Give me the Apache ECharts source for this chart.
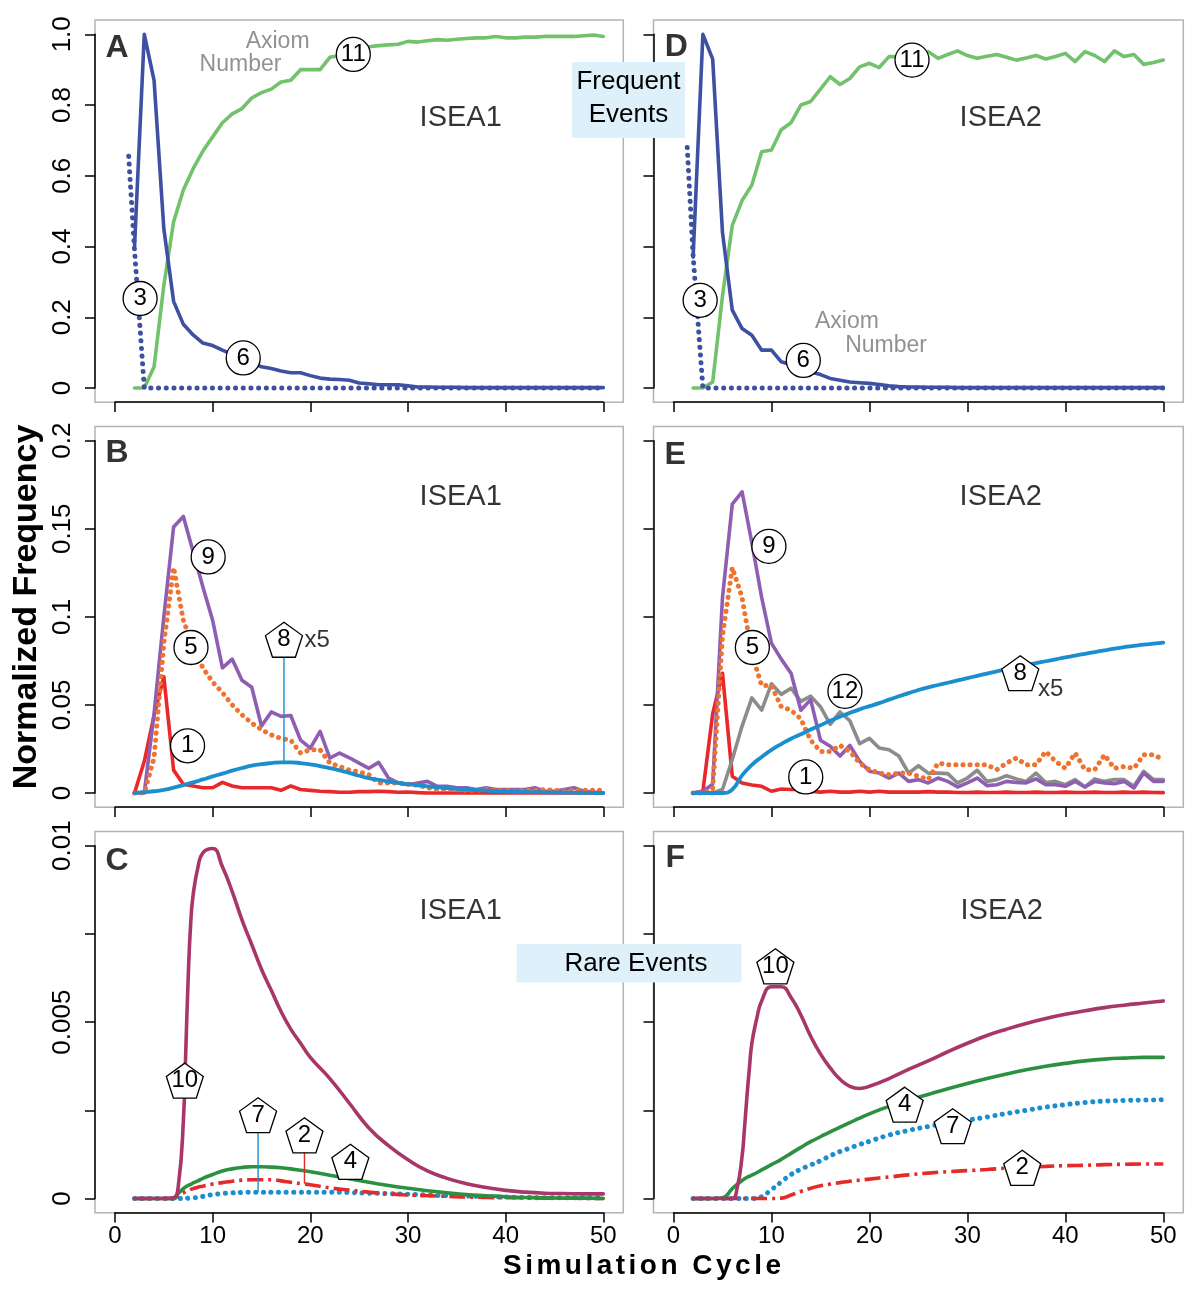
<!DOCTYPE html>
<html>
<head>
<meta charset="utf-8">
<title>ISEA simulation frequencies</title>
<script src="https://cdn.jsdelivr.net/npm/echarts@6.0.0/dist/echarts.min.js"></script>
<style>
html,body{margin:0;padding:0;background:#ffffff;}
#chart{width:1200px;height:1290px;}
</style>
</head>
<body>
<div id="chart"></div>
<script>
// ---------------- data ----------------
const cycles = [2,3,4,5,6,7,8,9,10,11,12,13,14,15,16,17,18,19,20,21,22,23,24,25,26,27,28,29,30,31,32,33,34,35,36,37,38,39,40,41,42,43,44,45,46,47,48,49,50];
const dotCycles = [1.4,2,3,4,5,6,7,8,9,10,11,12,13,14,15,16,17,18,19,20,21,22,23,24,25,26,27,28,29,30,31,32,33,34,35,36,37,38,39,40,41,42,43,44,45,46,47,48,49,50];
const rareX = [2,4,5,6,6.5,7,7.25,7.5,7.75,8,8.5,9,10,11,12,13,14,15,16,17,18,19,20,22,24,26,28,30,32,34,36,38,40,42,44,46,48,50];

const xTickLabels = ['0','10','20','30','40','50'];
const yTicksA = ['0','0.2','0.4','0.6','0.8','1.0'];
const yTicksB = ['0','0.05','0.1','0.15','0.2'];
const yTicksC = ['0','','0.005','','0.01'];

// Panel A (ISEA1, frequent)
const A_g11 = [0,0,0.06,0.29,0.47,0.56,0.62,0.67,0.71,0.75,0.775,0.79,0.82,0.835,0.845,0.865,0.87,0.9,0.9,0.9,0.935,0.94,0.945,0.955,0.965,0.968,0.97,0.972,0.98,0.978,0.982,0.985,0.983,0.986,0.988,0.99,0.99,0.994,0.99,0.99,0.992,0.992,0.994,0.994,0.994,0.994,0.996,0.998,0.994];
const A_b6 = [0.40,1.0,0.87,0.45,0.245,0.18,0.15,0.127,0.12,0.107,0.095,0.083,0.072,0.06,0.055,0.048,0.043,0.043,0.035,0.028,0.025,0.024,0.022,0.014,0.012,0.009,0.009,0.009,0.006,0.003,0.003,0.002,0.002,0.002,0.001,0.001,0.001,0.001,0.001,0.001,0.001,0.001,0.001,0.001,0.001,0.001,0.001,0.001,0.001];
const A_d3 = [0.655,0.39,0,0,0,0,0,0,0,0,0,0,0,0,0,0,0,0,0,0,0,0,0,0,0,0,0,0,0,0,0,0,0,0,0,0,0,0,0,0,0,0,0,0,0,0,0,0,0,0];

// Panel D (ISEA2, frequent)
const D_g11 = [0,0,0.017,0.26,0.46,0.53,0.574,0.668,0.673,0.73,0.75,0.80,0.81,0.845,0.88,0.858,0.875,0.908,0.918,0.906,0.937,0.937,0.937,0.94,0.951,0.932,0.943,0.953,0.94,0.932,0.938,0.943,0.935,0.927,0.933,0.94,0.93,0.937,0.946,0.923,0.951,0.94,0.923,0.953,0.937,0.943,0.915,0.92,0.927];
const D_b6 = [0.37,1.0,0.93,0.44,0.22,0.168,0.149,0.107,0.107,0.074,0.066,0.057,0.045,0.038,0.027,0.022,0.017,0.015,0.013,0.01,0.006,0.004,0.003,0.003,0.002,0.002,0.002,0.001,0.001,0.001,0.001,0.001,0.001,0.001,0.001,0.001,0.001,0.001,0.001,0.001,0.001,0.001,0.001,0.001,0.001,0.001,0.001,0.001,0.001];
const D_d3 = [0.68,0.375,0,0,0,0,0,0,0,0,0,0,0,0,0,0,0,0,0,0,0,0,0,0,0,0,0,0,0,0,0,0,0,0,0,0,0,0,0,0,0,0,0,0,0,0,0,0,0,0];

// Panel B (ISEA1, intermediate)
const B_r1 = [0,0.018,0.044,0.066,0.013,0.005,0.004,0.003,0.003,0.006,0.004,0.003,0.003,0.003,0.003,0.0015,0.004,0.002,0.0015,0.001,0.0008,0.0004,0.0004,0.0008,0.0008,0.001,0.0008,0.0004,0.0006,0.0002,0,0,0,0,0,0,0,0,0,0,0,0,0,0,0,0,0,0,0];
const B_p9 = [0,0,0.045,0.1,0.151,0.157,0.137,0.117,0.098,0.071,0.076,0.064,0.06,0.038,0.046,0.0435,0.044,0.03,0.0255,0.035,0.0198,0.0227,0.02,0.017,0.014,0.0174,0.0085,0.0057,0.0047,0.0057,0.0066,0.0038,0.0038,0.003,0.003,0.002,0.003,0.002,0.002,0.002,0.002,0.003,0.001,0.001,0.002,0.003,0.001,0.0005,0];
const B_o5 = [0,0,0.02,0.085,0.128,0.098,0.083,0.071,0.063,0.057,0.05,0.0444,0.0397,0.036,0.033,0.031,0.03,0.0227,0.0246,0.0246,0.017,0.015,0.013,0.012,0.0104,0.0057,0.0057,0.0057,0.005,0.0045,0.003,0.002,0.002,0.002,0.0015,0.0015,0.002,0.0015,0.0015,0.001,0.0015,0.0015,0.002,0.0015,0.001,0.0015,0.0015,0.0015,0.0015];
const B_b8 = [0,0.0005,0.001,0.0018,0.003,0.0045,0.006,0.0077,0.0094,0.011,0.0127,0.0142,0.0155,0.0164,0.017,0.0174,0.0174,0.017,0.0162,0.0153,0.0141,0.0128,0.0114,0.0098,0.0084,0.0074,0.0065,0.0057,0.005,0.0044,0.0038,0.0033,0.0028,0.0024,0.002,0.0017,0.0014,0.0011,0.0009,0.0007,0.0006,0.0005,0.0004,0.0003,0.0002,0.0002,0.0001,0.0001,0];

// Panel E (ISEA2, intermediate)
const E_r1 = [0,0.001,0.045,0.068,0.0095,0.0057,0.0045,0.0038,0.001,0.0023,0.002,0.002,0.001,0.0005,0.001,0.0005,0.0005,0.001,0.0005,0.001,0.0005,0.0005,0.0005,0.0005,0.0008,0.0005,0.0005,0.0003,0.0003,0.0005,0.0003,0.0003,0.0005,0.0003,0.0003,0.0005,0.0003,0.0003,0.0005,0.0003,0.0003,0.0005,0.0003,0.0003,0.0005,0.0003,0.0005,0.0003,0.0002];
const E_p9 = [0,0.001,0.005,0.111,0.164,0.171,0.142,0.111,0.085,0.076,0.068,0.047,0.053,0.03,0.0265,0.021,0.027,0.018,0.0123,0.0113,0.0085,0.0113,0.0066,0.0076,0.0057,0.0085,0.0066,0.0034,0.0057,0.0085,0.0042,0.0047,0.0066,0.006,0.0057,0.008,0.0047,0.0047,0.0038,0.0066,0.0034,0.0066,0.0057,0.0053,0.0066,0.0028,0.0113,0.0066,0.0066];
const E_g12 = [0,0,0,0.002,0.019,0.038,0.054,0.047,0.062,0.056,0.0595,0.052,0.055,0.049,0.039,0.046,0.041,0.028,0.031,0.0255,0.0246,0.021,0.0113,0.0155,0.0113,0.0113,0.011,0.0057,0.0085,0.0129,0.0066,0.0076,0.0098,0.008,0.0066,0.0113,0.006,0.0066,0.0047,0.0076,0.0034,0.008,0.0066,0.0076,0.0076,0.0038,0.0123,0.0076,0.0076];
const E_o5 = [0,0,0.002,0.089,0.128,0.111,0.079,0.061,0.061,0.049,0.047,0.042,0.03,0.0236,0.0236,0.027,0.0236,0.017,0.0132,0.0113,0.0104,0.0113,0.0113,0.0095,0.0076,0.017,0.016,0.016,0.016,0.016,0.016,0.0132,0.017,0.0198,0.016,0.016,0.0236,0.018,0.014,0.0227,0.0132,0.0132,0.0217,0.014,0.015,0.014,0.0217,0.0217,0.019];
const E_b8 = [0,0,0,0,0.002,0.01,0.016,0.0205,0.0245,0.0278,0.0308,0.0333,0.036,0.0385,0.041,0.0433,0.0455,0.0475,0.0493,0.051,0.053,0.0549,0.0567,0.0585,0.06,0.0613,0.0626,0.0639,0.0652,0.0665,0.0678,0.0691,0.0703,0.0715,0.0726,0.0737,0.0748,0.0759,0.077,0.078,0.079,0.08,0.081,0.082,0.0828,0.0835,0.0842,0.0848,0.0854];

// Panel C (ISEA1, rare)
const C_m10 = [0,0,0,0.00002,0.0004,0.0022,0.0042,0.0063,0.0078,0.0086,0.0094,0.0098,0.00992,0.0094,0.0087,0.0079,0.0072,0.0065,0.0059,0.0053,0.0048,0.0044,0.004,0.0034,0.0027,0.002,0.0015,0.0011,0.00078,0.00057,0.00042,0.00031,0.00023,0.00018,0.00015,0.00014,0.00013,0.00013];
const C_g4 = [0,0,0,0,0.00015,0.00028,0.00033,0.00037,0.0004,0.00044,0.0005,0.00057,0.00068,0.00078,0.00084,0.00088,0.0009,0.0009,0.00089,0.00087,0.00084,0.0008,0.00076,0.00066,0.00056,0.00046,0.00037,0.00029,0.00022,0.00016,0.00011,0.00008,0.00005,0.00003,0.00002,0.00001,0.00001,0];
const C_r2 = [0,0,0,0,0.00008,0.00016,0.0002,0.00023,0.00026,0.00028,0.00032,0.00035,0.00041,0.00045,0.00049,0.00052,0.00053,0.00053,0.00053,0.0005,0.00046,0.00042,0.00039,0.0003,0.00024,0.00018,0.00013,0.0001,0.00008,0.00006,0.00004,0.00003,0.00002,0.00002,0.00001,0.00001,0,0];
const C_b7 = [0,0,0,0,0,0,0,0.00001,0.00001,0.00002,0.00003,0.00006,0.00011,0.00014,0.00016,0.00017,0.00018,0.00018,0.00018,0.00018,0.00018,0.00018,0.00018,0.00018,0.00017,0.00015,0.00014,0.00012,0.0001,0.00008,0.00007,0.00005,0.00004,0.00003,0.00002,0.00002,0.00002,0.00002];

// Panel F (ISEA2, rare)
const F_m10 = [0,0,0,0,0.0003,0.0012,0.002,0.0029,0.0037,0.0044,0.0051,0.0056,0.006,0.006,0.0057,0.0052,0.0046,0.0041,0.0037,0.00338,0.00318,0.00312,0.00318,0.0034,0.00366,0.0039,0.00416,0.0044,0.00462,0.0048,0.00496,0.0051,0.00522,0.00532,0.00541,0.00548,0.00554,0.0056];
const F_g4 = [0,0,0.00002,0.00028,0.0004,0.00051,0.00056,0.0006,0.00063,0.00066,0.00073,0.00081,0.00096,0.00111,0.00128,0.00145,0.00161,0.00175,0.00189,0.00202,0.00215,0.00228,0.0024,0.00261,0.00279,0.00295,0.00311,0.00326,0.0034,0.00353,0.00365,0.00375,0.00383,0.0039,0.00395,0.00398,0.004,0.004];
const F_b7 = [0,0,0,0,0,0,0,0,0,0,0.00001,0.00005,0.00025,0.00047,0.00068,0.00083,0.00095,0.00107,0.00121,0.00133,0.00143,0.00153,0.00162,0.0018,0.00193,0.00204,0.00214,0.00222,0.00231,0.00241,0.0025,0.00259,0.00266,0.00272,0.00276,0.00278,0.00279,0.0028];
const F_r2 = [0,0,0,0,0,0,0,0,0,0,0,0,0,0.00001,0.0001,0.0002,0.00029,0.00036,0.00041,0.00045,0.00049,0.00052,0.00055,0.00061,0.00067,0.00072,0.00076,0.00079,0.00082,0.00086,0.00089,0.00091,0.00093,0.00094,0.00096,0.00097,0.00098,0.00098];

// annotation labels (panel index: 0=A,1=B,2=C,3=D,4=E,5=F), positioned in data units
const circleLabels = [
  {p:0,t:'3',x:2.57,y:0.253},{p:0,t:'6',x:13.13,y:0.085},{p:0,t:'11',x:24.4,y:0.943},
  {p:3,t:'3',x:2.72,y:0.248},{p:3,t:'6',x:13.25,y:0.078},{p:3,t:'11',x:24.35,y:0.927},
  {p:1,t:'9',x:9.54,y:0.134},{p:1,t:'5',x:7.78,y:0.0826},{p:1,t:'1',x:7.43,y:0.0268},
  {p:4,t:'9',x:9.74,y:0.14},{p:4,t:'5',x:8.05,y:0.0826},{p:4,t:'12',x:17.5,y:0.0577},{p:4,t:'1',x:13.5,y:0.0091}
];
const pentagonLabels = [
  {p:1,t:'8',x:17.3,y:0.087},{p:4,t:'8',x:35.4,y:0.068},
  {p:2,t:'10',x:7.15,y:0.00334},{p:2,t:'7',x:14.65,y:0.00236},{p:2,t:'2',x:19.4,y:0.00179},{p:2,t:'4',x:24.1,y:0.00104},
  {p:5,t:'10',x:10.4,y:0.00658},{p:5,t:'4',x:23.6,y:0.00266},{p:5,t:'7',x:28.5,y:0.00205},{p:5,t:'2',x:35.6,y:0.00087}
];
const leaderLines = [
  {p:1,x:17.3,y0:0.087,y1:0.0174,color:'#1b8ed0'},
  {p:2,x:14.65,y0:0.00236,y1:0.00018,color:'#1b8ed0'},
  {p:2,x:19.4,y0:0.00179,y1:0.00042,color:'#e52a2a'}
];
const plainTexts = [
  {p:0,t:'A',x:0.21,y:0.96,s:32,w:'bold',c:'#000'},
  {p:1,t:'B',x:0.21,y:0.1928,s:32,w:'bold',c:'#000'},
  {p:2,t:'C',x:0.21,y:0.00955,s:32,w:'bold',c:'#000'},
  {p:3,t:'D',x:0.29,y:0.965,s:32,w:'bold',c:'#000'},
  {p:4,t:'E',x:0.18,y:0.1919,s:32,w:'bold',c:'#000'},
  {p:5,t:'F',x:0.18,y:0.00964,s:32,w:'bold',c:'#000'},
  {p:0,t:'ISEA1',x:35.4,y:0.762,s:29,w:'normal',c:'#000'},
  {p:1,t:'ISEA1',x:35.4,y:0.168,s:29,w:'normal',c:'#000'},
  {p:2,t:'ISEA1',x:35.4,y:0.00815,s:29,w:'normal',c:'#000'},
  {p:3,t:'ISEA2',x:33.4,y:0.762,s:29,w:'normal',c:'#000'},
  {p:4,t:'ISEA2',x:33.4,y:0.168,s:29,w:'normal',c:'#000'},
  {p:5,t:'ISEA2',x:33.5,y:0.00815,s:29,w:'normal',c:'#000'},
  {p:0,t:'Axiom',x:16.65,y:0.979,s:23,w:'normal',c:'#777777'},
  {p:0,t:'Number',x:12.85,y:0.915,s:23,w:'normal',c:'#777777'},
  {p:3,t:'Axiom',x:17.7,y:0.187,s:23,w:'normal',c:'#777777'},
  {p:3,t:'Number',x:21.7,y:0.121,s:23,w:'normal',c:'#777777'},
  {p:1,t:'x5',x:20.7,y:0.0866,s:24,w:'normal',c:'#000'},
  {p:4,t:'x5',x:38.5,y:0.059,s:24,w:'normal',c:'#000'}
];

// ---------------- layout ----------------
const FF = "'Liberation Sans', Arial, Helvetica, sans-serif";
const cols = [{left:115, width:488.3}, {left:673.5, width:489.8}];
const rows = [{top:34.3, height:353.7}, {top:440.7, height:352.3}, {top:845.7, height:352.8}];
const yMax = [1, 0.2, 0.01];
const yInt = [0.2, 0.05, 0.0025];
const yTicks = [yTicksA, yTicksB, yTicksC];
const panels = [{col:0,row:0},{col:0,row:1},{col:0,row:2},{col:1,row:0},{col:1,row:1},{col:1,row:2}];

const grids = [], xAxes = [], yAxes = [], boxes = [];
panels.forEach((pn, i) => {
  const c = cols[pn.col], r = rows[pn.row];
  grids.push({left:c.left, top:r.top, width:c.width, height:r.height, show:false});
  boxes.push({type:'rect', z:-5, silent:true,
    shape:{x:c.left-20, y:r.top-14.3, width:c.width+40, height:r.height+28.5},
    style:{fill:'none', stroke:'#b4b4b4', lineWidth:1.5}});
  xAxes.push({gridIndex:i, type:'value', min:0, max:50, interval:10, offset:14,
    axisLine:{show:true, onZero:false, lineStyle:{color:'#000', width:1.5}},
    axisTick:{show:true, length:10, lineStyle:{color:'#000', width:1.5}},
    axisLabel:{show:pn.row===2, fontSize:24, color:'#000', fontFamily:FF, margin:12,
      formatter:v => xTickLabels[Math.round(v/10)]},
    splitLine:{show:false}});
  yAxes.push({gridIndex:i, type:'value', min:0, max:yMax[pn.row], interval:yInt[pn.row], offset:20,
    axisLine:{show:true, onZero:false, lineStyle:{color:'#000', width:1.5}},
    axisTick:{show:true, length:10, lineStyle:{color:'#000', width:1.5}},
    axisLabel:{show:pn.col===0, rotate:90, fontSize:26, color:'#000', fontFamily:FF, margin:19,
      showMinLabel:true, showMaxLabel:true,
      formatter:v => yTicks[pn.row][Math.round(v/yInt[pn.row])]},
    splitLine:{show:false}});
});

// ---------------- series ----------------
const zip = (xs, ys) => xs.map((x, k) => [x, ys[k]]);
const solid = (color, w) => ({color, width:w||3.6, join:'round', cap:'round'});
const dots = (color, w, gap) => ({color, width:w||5, type:[0.1, gap||7.5], cap:'round'});
const dashDot = (color) => ({color, width:3.6, type:[16,5,3,5], cap:'butt'});
function ln(p, xs, ys, lineStyle, extra) {
  return Object.assign({type:'line', xAxisIndex:p, yAxisIndex:p, data:zip(xs, ys),
    symbol:'none', showSymbol:false, clip:false, silent:true, animation:false, lineStyle, z:2}, extra || {});
}
const smoothOpt = {smooth:0.5};

const series = [
  // A
  ln(0, cycles, A_g11, solid('#72c26b')),
  ln(0, cycles, A_b6, solid('#3d50a2')),
  ln(0, dotCycles, A_d3, dots('#3d50a2', 5, 7.6)),
  // B
  ln(1, cycles, B_r1, solid('#e8282a')),
  ln(1, cycles, B_p9, solid('#8f5db2')),
  ln(1, cycles, B_o5, dots('#ee7230', 5, 7)),
  ln(1, cycles, B_b8, solid('#1b8ed0', 3.8), smoothOpt),
  // C
  ln(2, rareX, C_b7, dots('#1b8ed0', 5, 7.5), smoothOpt),
  ln(2, rareX, C_r2, dashDot('#e52a2a'), smoothOpt),
  ln(2, rareX, C_g4, solid('#2b9140'), smoothOpt),
  ln(2, rareX, C_m10, solid('#a83668', 3.6), smoothOpt),
  // D
  ln(3, cycles, D_g11, solid('#72c26b')),
  ln(3, cycles, D_b6, solid('#3d50a2')),
  ln(3, dotCycles, D_d3, dots('#3d50a2', 5, 7.6)),
  // E
  ln(4, cycles, E_r1, solid('#e8282a')),
  ln(4, cycles, E_g12, solid('#8c8c8c')),
  ln(4, cycles, E_p9, solid('#8f5db2')),
  ln(4, cycles, E_o5, dots('#ee7230', 5, 7)),
  ln(4, cycles, E_b8, solid('#1b8ed0', 3.8), smoothOpt),
  // F
  ln(5, rareX, F_b7, dots('#1b8ed0', 5, 7.5), smoothOpt),
  ln(5, rareX, F_r2, dashDot('#e52a2a'), smoothOpt),
  ln(5, rareX, F_g4, solid('#2b9140'), smoothOpt),
  ln(5, rareX, F_m10, solid('#a83668', 3.6), smoothOpt)
];

// leader lines
leaderLines.forEach(l => {
  series.push(ln(l.p, [l.x, l.x], [l.y0, l.y1], {color:l.color, width:1.4}, {z:3}));
});

const pentagonPath = 'path://M18,0 L35.12,12.44 L28.58,32.56 L7.42,32.56 L0.88,12.44 Z';
for (let p = 0; p < 6; p++) {
  const cs = circleLabels.filter(d => d.p === p);
  if (cs.length) series.push({type:'scatter', xAxisIndex:p, yAxisIndex:p, z:6, clip:false, silent:true, animation:false,
    symbol:'circle', symbolSize:34,
    itemStyle:{color:'#ffffff', borderColor:'#000', borderWidth:1.3, opacity:1},
    label:{show:true, position:'inside', formatter:'{b}', fontSize:24, color:'#000', fontFamily:FF},
    data:cs.map(d => ({name:d.t, value:[d.x, d.y]}))});
  const ps = pentagonLabels.filter(d => d.p === p);
  if (ps.length) series.push({type:'scatter', xAxisIndex:p, yAxisIndex:p, z:6, clip:false, silent:true, animation:false,
    symbol:pentagonPath, symbolSize:[37,35],
    itemStyle:{color:'#ffffff', borderColor:'#000', borderWidth:1.3, opacity:1},
    label:{show:true, position:'inside', formatter:'{b}', fontSize:24, color:'#000', fontFamily:FF},
    data:ps.map(d => ({name:d.t, value:[d.x, d.y]}))});
  const ts = plainTexts.filter(d => d.p === p);
  if (ts.length) series.push({type:'scatter', xAxisIndex:p, yAxisIndex:p, z:7, clip:false, silent:true, animation:false,
    symbol:'circle', symbolSize:1, itemStyle:{color:'rgba(0,0,0,0)'},
    data:ts.map(d => ({name:d.t, value:[d.x, d.y],
      label:{show:true, position:'inside', formatter:'{b}', fontSize:d.s, fontWeight:d.w, color:d.c, fontFamily:FF}}))});
}

// ---------------- graphic decorations ----------------
const graphics = boxes.slice();
function txt(x, y, text, font, color, extra) {
  return Object.assign({type:'text', x, y, silent:true, z:10,
    style:{text, font, fill:color, align:'center', verticalAlign:'middle', textAlign:'center', textVerticalAlign:'middle'}}, extra || {});
}
// Frequent events box
graphics.push({type:'rect', z:1, silent:true, shape:{x:572, y:62, width:113, height:76}, style:{fill:'#def1fb'}});
graphics.push(txt(628.5, 82, 'Frequent', "26px " + FF, '#000'));
graphics.push(txt(628.5, 115, 'Events', "26px " + FF, '#000'));
// Rare events box
graphics.push({type:'rect', z:1, silent:true, shape:{x:516.5, y:944, width:225, height:38.5}, style:{fill:'#def1fb'}});
graphics.push(txt(636, 964, 'Rare Events', "26px " + FF, '#000'));
// y axis title
graphics.push(txt(27, 607, 'Normalized Frequency', "bold 34px " + FF, '#000', {rotation:Math.PI/2}));
// x axis title with letter spacing
(function(){
  const title = 'Simulation Cycle';
  const font = "bold 28px " + FF;
  const ctx = document.createElement('canvas').getContext('2d');
  ctx.font = font;
  const widths = Array.from(title).map(ch => ctx.measureText(ch).width);
  const natural = widths.reduce((a, b) => a + b, 0);
  const target = 278;
  const sp = Math.max(0, (target - natural) / (title.length - 1));
  let cx = 642 - (natural + sp * (title.length - 1)) / 2;
  Array.from(title).forEach((ch, k) => {
    if (ch !== ' ') graphics.push({type:'text', x:cx, y:1266, silent:true, z:10,
      style:{text:ch, font, fill:'#000', align:'left', verticalAlign:'middle', textAlign:'left', textVerticalAlign:'middle'}});
    cx += widths[k] + sp;
  });
})();

const chart = echarts.init(document.getElementById('chart'), null, {renderer:'canvas', width:1200, height:1290});
chart.setOption({
  animation:false,
  backgroundColor:'#ffffff',
  grid:grids,
  xAxis:xAxes,
  yAxis:yAxes,
  series:series,
  graphic:{elements:graphics}
});
</script>
</body>
</html>
